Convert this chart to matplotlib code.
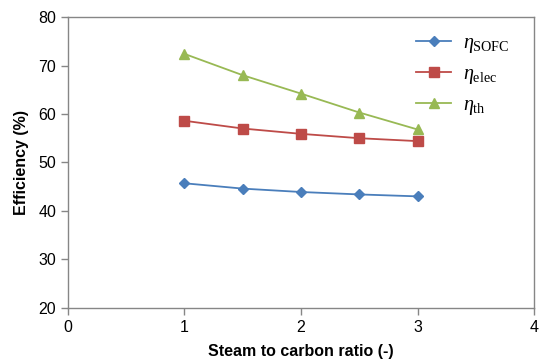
import matplotlib
matplotlib.use('Agg')
import matplotlib.pyplot as plt

plt.rcParams['font.family'] = ['Liberation Sans', 'DejaVu Sans']
plt.rcParams['mathtext.fontset'] = 'custom'
plt.rcParams['mathtext.rm'] = 'Liberation Serif'
plt.rcParams['mathtext.it'] = 'Liberation Serif:italic'

steam_carbon = [1.0, 1.5, 2.0, 2.5, 3.0]
eta_sofc = [45.7, 44.6, 43.9, 43.4, 43.0]
eta_elec = [58.6, 57.0, 55.9, 55.0, 54.4]
eta_th = [72.4, 68.0, 64.2, 60.3, 56.8]

fig = plt.figure(figsize=(5.39, 3.63), dpi=100)
ax = fig.add_axes([0.126, 0.152, 0.865, 0.801])

ax.plot(steam_carbon, eta_sofc, '-D', color='#4a7ebb', markersize=5.5, lw=1.3, label=r'$\eta_{\rm SOFC}$')
ax.plot(steam_carbon, eta_elec, '-s', color='#be4b48', markersize=7, lw=1.3, label=r'$\eta_{\rm elec}$')
ax.plot(steam_carbon, eta_th, '-^', color='#98b954', markersize=7.5, lw=1.3, label=r'$\eta_{\rm th}$')

ax.set_xlim(0, 4)
ax.set_ylim(20, 80)
ax.set_xticks([0, 1, 2, 3, 4])
ax.set_yticks(range(20, 81, 10))
ax.set_xlabel('Steam to carbon ratio (-)', fontsize=11.5, fontweight='bold', labelpad=7)
ax.set_ylabel('Efficiency (%)', fontsize=11.5, fontweight='bold', labelpad=7)

for s in ax.spines.values():
    s.set_color('#868686')
    s.set_linewidth(1.0)
ax.tick_params(direction='out', length=5, width=1, color='#868686', labelsize=11.5)

ax.legend(loc='upper right', bbox_to_anchor=(0.985, 1.008), frameon=False, fontsize=14.5,
          handlelength=1.75, labelspacing=0.45, handletextpad=0.55)

plt.savefig('out.png', dpi=100)
